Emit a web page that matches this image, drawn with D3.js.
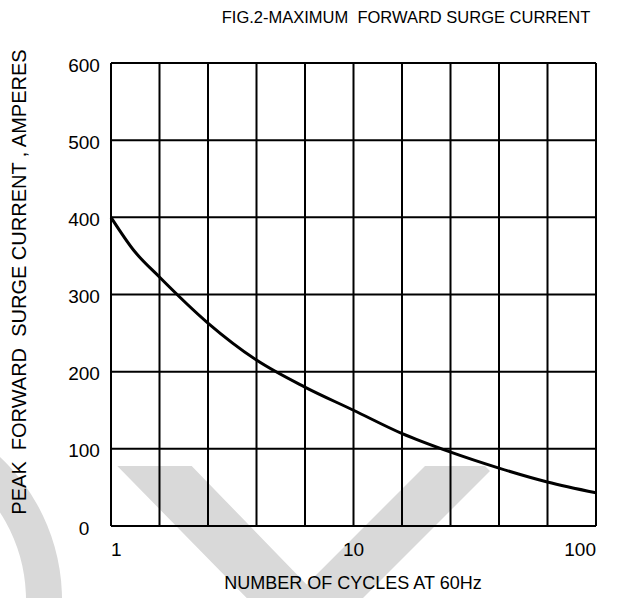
<!DOCTYPE html>
<html><head><meta charset="utf-8">
<script src="https://cdn.jsdelivr.net/npm/d3@7/dist/d3.min.js"></script>
<style>
body{margin:0;background:#fff;}
text{font-family:"Liberation Sans",Arial,sans-serif;fill:#000;white-space:pre;}
</style></head>
<body>
<svg id="c" width="620" height="598"></svg>
<script>
const cycles  = [1, 1.25, 1.58, 2.51, 3.98, 6.3, 10, 15.8, 25, 39.8, 63, 100];
const current = [400, 356, 323, 263, 215, 180, 150, 120, 96, 75, 57, 43];
const yTicks = [0, 100, 200, 300, 400, 500, 600];
const xLabels = [1, 10, 100];
const xGridCount = 10;
const title = "FIG.2-MAXIMUM  FORWARD SURGE CURRENT";
const xTitle = "NUMBER OF CYCLES AT 60Hz";
const yTitle = "PEAK  FORWARD  SURGE CURRENT , AMPERES";

const svg = d3.select("#c");
const L = 111, R = 596, T = 63, B = 526;
const x = d3.scaleLog().domain([1, 100]).range([L, R]);
const y = d3.scaleLinear().domain([0, 600]).range([B, T]);

// watermark
const wm = svg.append("g").attr("fill", "#d9d9d9");
wm.append("path").attr("d", "M117.3,466 L191.7,466 L306.6,584.4 L425,466 L485,466 L490,471 L363,598 L246.7,598 Z");
wm.append("path").attr("transform", "translate(-134,600)")
  .attr("d", d3.arc().innerRadius(160).outerRadius(196).startAngle(0).endAngle(Math.PI * 0.6)());

// grid
const xg = d3.range(xGridCount + 1).map(i => Math.pow(10, 2 * i / xGridCount));
svg.append("g").selectAll("line").data(xg).join("line")
  .attr("x1", d => x(d)).attr("x2", d => x(d)).attr("y1", T).attr("y2", B)
  .attr("stroke", "#000").attr("stroke-width", 2);
svg.append("g").selectAll("line").data(yTicks).join("line")
  .attr("x1", L).attr("x2", R).attr("y1", d => y(d)).attr("y2", d => y(d))
  .attr("stroke", "#000").attr("stroke-width", 2);

// curve
svg.append("path").datum(cycles.map((c, i) => [c, current[i]]))
  .attr("fill", "none").attr("stroke", "#000").attr("stroke-width", 3)
  .attr("d", d3.line().x(d => x(d[0])).y(d => y(d[1])).curve(d3.curveMonotoneX));

// y labels
svg.append("g").selectAll("text").data(yTicks).join("text")
  .attr("x", 84).attr("y", d => y(d)).attr("dy", "0.45em")
  .attr("text-anchor", "middle").attr("font-size", 19).text(d => d);
// x labels
const anchors = ["start", "middle", "end"];
svg.append("g").selectAll("text").data(xLabels).join("text")
  .attr("x", d => x(d)).attr("y", 556)
  .attr("text-anchor", (d, i) => anchors[i]).attr("font-size", 19).text(d => d);

svg.append("text").attr("x", 406).attr("y", 23).attr("text-anchor", "middle").attr("font-size", 16.5).text(title);
svg.append("text").attr("x", 353).attr("y", 589).attr("text-anchor", "middle").attr("font-size", 18).text(xTitle);
svg.append("text").attr("transform", "translate(26,282) rotate(-90)").attr("text-anchor", "middle").attr("font-size", 20).text(yTitle);
</script>
</body></html>
